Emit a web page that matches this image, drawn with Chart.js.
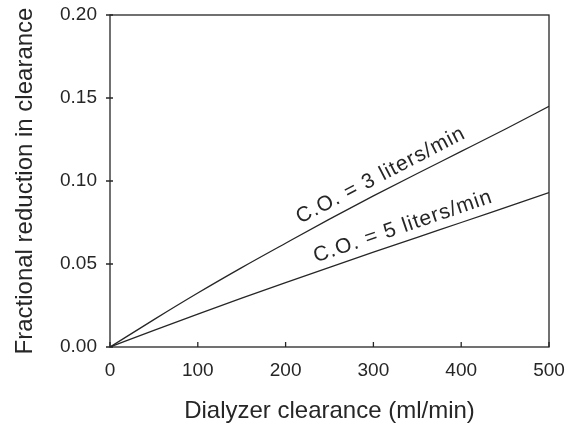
<!DOCTYPE html>
<html>
<head>
<meta charset="utf-8">
<script src="https://cdn.jsdelivr.net/npm/chart.js@4.4.1/dist/chart.umd.min.js"></script>
<style>
  html, body { margin: 0; padding: 0; background: #fff; }
  #wrap { width: 573px; height: 425px; }
</style>
</head>
<body>
<div id="wrap"><canvas id="chart"></canvas></div>
<script>
// values
const clearance = [0, 50, 100, 150, 200, 250, 300, 350, 400, 450, 500];
const reductionCO3 = [0, 0.0165, 0.0325, 0.0478, 0.0625, 0.0770, 0.0910, 0.1045, 0.1178, 0.1312, 0.1450];
const reductionCO5 = [0, 0.0100, 0.0198, 0.0294, 0.0388, 0.0480, 0.0571, 0.0661, 0.0750, 0.0840, 0.0930];
const xTicks = [0, 100, 200, 300, 400, 500];
const yTicks = [0, 0.05, 0.10, 0.15, 0.20];
const seriesLabels = ['C.O. = 3 liters/min', 'C.O. = 5 liters/min'];
const labelStartX = [222, 238];

const INK = '#262626';
const FONT = '"Liberation Sans", Arial, Helvetica, sans-serif';

function toPoints(ys) {
    return clearance.map((x, i) => ({ x: x, y: ys[i] }));
}

// box round the plot + tick marks (x ticks inward, y ticks crossing)
const framePlugin = {
    id: 'frame',
    afterDraw(chart) {
        const { ctx, chartArea: a, scales: { x, y } } = chart;
        ctx.save();
        ctx.strokeStyle = INK;
        ctx.lineWidth = 1.3;
        ctx.strokeRect(a.left, a.top, a.right - a.left, a.bottom - a.top);
        ctx.beginPath();
        xTicks.forEach(v => {
            const px = x.getPixelForValue(v);
            ctx.moveTo(px, a.bottom);
            ctx.lineTo(px, a.bottom - 5);
        });
        yTicks.forEach(v => {
            const py = y.getPixelForValue(v);
            ctx.moveTo(a.left - 4, py);
            ctx.lineTo(a.left + 3, py);
        });
        ctx.stroke();
        ctx.restore();
    }
};

// text written along each curve
function pointAt(pts, px) {
    for (let i = 1; i < pts.length; i++) {
        if (pts[i].x >= px) {
            const p = pts[i - 1], q = pts[i];
            const t = (px - p.x) / (q.x - p.x);
            return { x: px, y: p.y + t * (q.y - p.y) };
        }
    }
    return pts[pts.length - 1];
}

const lineLabelPlugin = {
    id: 'lineLabels',
    afterDatasetsDraw(chart) {
        const { ctx, scales: { x } } = chart;
        chart.data.datasets.forEach((ds, i) => {
            const pts = chart.getDatasetMeta(i).data.map(e => ({ x: e.x, y: e.y }));
            const x0 = x.getPixelForValue(labelStartX[i]);
            const p0 = pointAt(pts, x0);
            const p1 = pointAt(pts, x0 + 170);
            const angle = Math.atan2(p1.y - p0.y, p1.x - p0.x);
            ctx.save();
            ctx.translate(p0.x, p0.y);
            ctx.rotate(angle);
            ctx.font = '21px ' + FONT;
            if ('letterSpacing' in ctx) ctx.letterSpacing = '1px';
            ctx.fillStyle = INK;
            ctx.textAlign = 'left';
            ctx.textBaseline = 'alphabetic';
            ctx.fillText(seriesLabels[i], 0, i === 0 ? -10 : -9);
            ctx.restore();
        });
    }
};

const lineStyle = {
    borderColor: INK,
    borderWidth: 1.3,
    pointRadius: 0,
    fill: false,
    cubicInterpolationMode: 'monotone'
};

new Chart(document.getElementById('chart'), {
    type: 'line',
    data: {
        datasets: [
            Object.assign({ label: seriesLabels[0], data: toPoints(reductionCO3) }, lineStyle),
            Object.assign({ label: seriesLabels[1], data: toPoints(reductionCO5) }, lineStyle)
        ]
    },
    options: {
        responsive: true,
        maintainAspectRatio: false,
        animation: false,
        layout: { padding: { top: 15, right: 24, left: 0, bottom: 0 } },
        plugins: {
            legend: { display: false },
            tooltip: { enabled: false }
        },
        scales: {
            x: {
                type: 'linear',
                min: 0,
                max: 500,
                afterBuildTicks: s => { s.ticks = xTicks.map(v => ({ value: v })); },
                afterFit: s => { s.height = 78; s.paddingLeft = 0; s.paddingRight = 0; },
                grid: { display: false, drawTicks: false },
                border: { display: false },
                ticks: {
                    color: INK,
                    padding: 12,
                    maxRotation: 0,
                    font: { family: FONT, size: 19 }
                },
                title: {
                    display: true,
                    text: 'Dialyzer clearance (ml/min)',
                    color: INK,
                    padding: { top: 0, bottom: 0 },
                    font: { family: FONT, size: 24, lineHeight: 1.1 }
                }
            },
            y: {
                min: 0,
                max: 0.20,
                afterBuildTicks: s => { s.ticks = yTicks.map(v => ({ value: v })); },
                afterFit: s => { s.width = 110; s.paddingTop = 0; s.paddingBottom = 0; },
                grid: { display: false, drawTicks: false },
                border: { display: false },
                ticks: {
                    color: INK,
                    padding: 13,
                    font: { family: FONT, size: 19 },
                    callback: v => v.toFixed(2)
                },
                title: {
                    display: true,
                    text: 'Fractional reduction in clearance',
                    color: INK,
                    padding: { top: 11, bottom: 0 },
                    font: { family: FONT, size: 24 }
                }
            }
        }
    },
    plugins: [framePlugin, lineLabelPlugin]
});
</script>
</body>
</html>
